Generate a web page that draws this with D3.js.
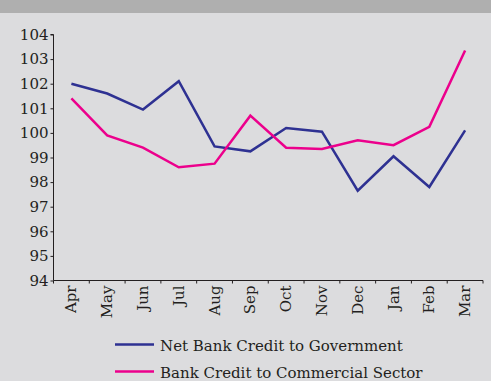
<!DOCTYPE html>
<html>
<head>
<meta charset="utf-8">
<script src="https://cdn.jsdelivr.net/npm/d3@7"></script>
<style>
  html, body { margin: 0; padding: 0; background: #dcdcde; }
  svg { display: block; }
  text { font-family: "DejaVu Serif", serif; fill: #231f20; }
</style>
</head>
<body>
<svg id="chart" width="491" height="381"></svg>
<script>
// Monthly index values
const months = ["Apr","May","Jun","Jul","Aug","Sep","Oct","Nov","Dec","Jan","Feb","Mar"];
const govCredit = [102.0, 101.6, 100.95, 102.1, 99.45, 99.25, 100.2, 100.05, 97.65, 99.05, 97.8, 100.1];
const commCredit = [101.4, 99.9, 99.4, 98.6, 98.75, 100.7, 99.4, 99.35, 99.7, 99.5, 100.25, 103.35];
const yTicks = [94, 95, 96, 97, 98, 99, 100, 101, 102, 103, 104];
const seriesNames = ["Net Bank Credit to Government", "Bank Credit to Commercial Sector"];
const seriesColors = ["#2e3192", "#ec008c"];

const svg = d3.select("#chart");
const W = 491, H = 381;

svg.append("rect").attr("width", W).attr("height", H).attr("fill", "#dcdcde");
svg.append("rect").attr("width", W).attr("height", 13).attr("fill", "#afafaf");

const plotLeft = 53.5, plotRight = 483, plotTop = 34.5, plotBottom = 280.5;

const x = d3.scaleBand().domain(months).range([plotLeft, plotRight]);
const y = d3.scaleLinear().domain([94, 104]).range([plotBottom, plotTop]);

// y axis
const yAxis = svg.append("g")
  .attr("transform", `translate(${plotLeft},0)`)
  .call(d3.axisLeft(y).tickValues(yTicks).tickSize(3).tickPadding(2).tickFormat(d3.format("d")));
yAxis.select(".domain").attr("d", `M-3,${plotTop}H0V${plotBottom}`);
yAxis.selectAll("text").style("font-size", "15px").attr("fill", "#231f20");
yAxis.selectAll("line, path").attr("stroke", "#231f20");

// x axis with ticks on band boundaries
const xAxis = svg.append("g").attr("transform", `translate(0,${plotBottom})`);
xAxis.append("line").attr("x1", plotLeft).attr("x2", plotRight).attr("stroke", "#231f20");
const bounds = months.map(m => x(m)).concat([plotRight]);
xAxis.selectAll("line.tick").data(bounds).join("line")
  .attr("class", "tick")
  .attr("x1", d => d).attr("x2", d => d)
  .attr("y1", 0).attr("y2", 3).attr("stroke", "#231f20");
xAxis.selectAll("text").data(months).join("text")
  .attr("transform", d => `translate(${x(d) + x.bandwidth() / 2 + 5},5) rotate(-90)`)
  .attr("text-anchor", "end")
  .style("font-size", "15px")
  .text(d => d);

// lines
const line = d3.line()
  .x((d, i) => x(months[i]) + x.bandwidth() / 2)
  .y(d => y(d));

[govCredit, commCredit].forEach((vals, i) => {
  svg.append("path")
    .datum(vals)
    .attr("d", line)
    .attr("fill", "none")
    .attr("stroke", seriesColors[i])
    .attr("stroke-width", 2.5)
    .attr("stroke-linejoin", "miter");
});

// legend
const legend = svg.append("g");
seriesNames.forEach((name, i) => {
  const ly = 344.5 + i * 27;
  legend.append("line")
    .attr("x1", 115).attr("x2", 154)
    .attr("y1", ly).attr("y2", ly)
    .attr("stroke", seriesColors[i]).attr("stroke-width", 2.5);
  legend.append("text")
    .attr("x", 160).attr("y", ly + 6)
    .style("font-size", "15px")
    .text(name);
});
</script>
</body>
</html>
